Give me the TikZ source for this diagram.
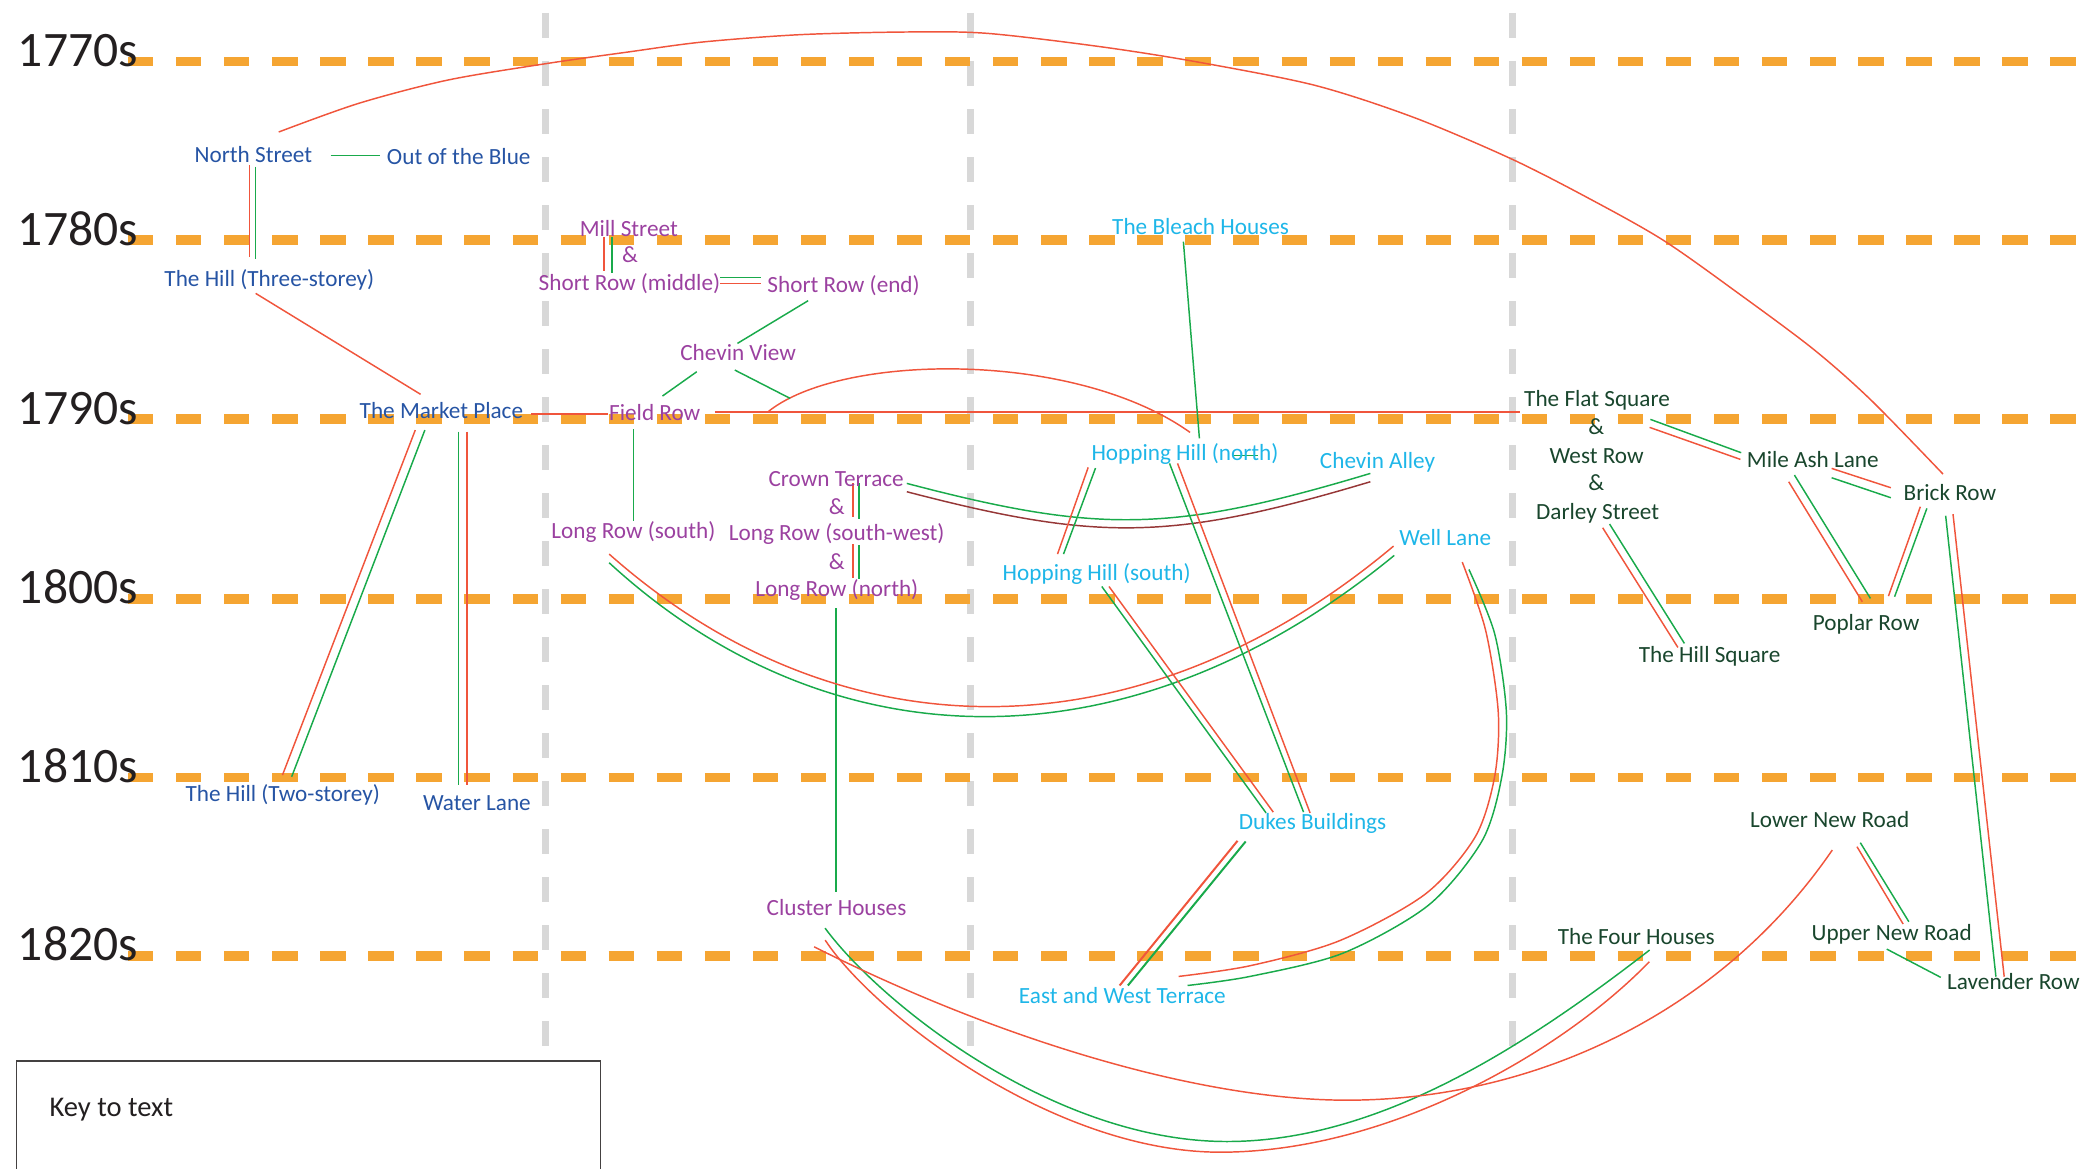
\documentclass[tikz,border=0pt]{standalone}
\usepackage{fontspec}
\setmainfont{Carlito}
\definecolor{tblue}{RGB}{38,84,164}
\definecolor{tpurple}{RGB}{155,65,160}
\definecolor{tcyan}{RGB}{30,182,232}
\definecolor{tgreen}{RGB}{25,70,45}
\definecolor{tdark}{RGB}{35,31,32}
\definecolor{lred}{RGB}{240,85,60}
\definecolor{lgreen}{RGB}{25,170,75}
\definecolor{lmaroon}{RGB}{150,55,55}
\definecolor{lorange}{RGB}{245,165,50}
\definecolor{lgray}{RGB}{216,216,216}
\tikzset{
  lbl/.style={anchor=base, inner sep=0pt, font=\fontsize{8.7}{10}\selectfont},
  bluetxt/.style={lbl, text=tblue},
  purptxt/.style={lbl, text=tpurple},
  cyantxt/.style={lbl, text=tcyan},
  greentxt/.style={lbl, text=tgreen},
  yeartxt/.style={anchor=base west, inner sep=0pt, text=tdark, font=\fontsize{18.6}{20}\selectfont},
  rl/.style={draw=lred, line width=0.55pt},
  gl/.style={draw=lgreen, line width=0.55pt},
  ml/.style={draw=lmaroon, line width=0.55pt},
  hdash/.style={draw=lorange, line width=3.6pt, dash pattern=on 9.5pt off 8.52pt},
  vdash/.style={draw=lgray, line width=2.6pt, dash pattern=on 9.4pt off 8.6pt},
  keybox/.style={draw=tdark!85, line width=0.7pt}
}
\begin{document}
\begin{tikzpicture}[x=0.5pt, y=-0.5pt]
\useasboundingbox (0,0) rectangle (1568,876);
% vertical grey guides
\foreach \vx in {409,727.5,1134.5} \draw[vdash] (\vx,9.75) -- (\vx,786);
% decade lines
\foreach \hy in {46,180,314,449,583,717} \draw[hdash] (96,\hy) -- (1557,\hy);
% year labels
\node[yeartxt] (y1770) at (13,50) {1770s};
\node[yeartxt] (y1780) at (13,184) {1780s};
\node[yeartxt] (y1790) at (13,318) {1790s};
\node[yeartxt] (y1800) at (13,452.5) {1800s};
\node[yeartxt] (y1810) at (13,586.5) {1810s};
\node[yeartxt] (y1820) at (13,720.5) {1820s};
% key box
\draw[keybox] (12.4,880) -- (12.4,795.6) -- (450.3,795.6) -- (450.3,880);
\node[anchor=base west, inner sep=0pt, text=tdark, font=\fontsize{10.7}{12}\selectfont] (key) at (36.8,837.5) {Key to text};

% ---------- connectors ----------
% North Street group
\draw[gl] (248,116.5) -- (285,116.5);
\draw[rl] (187,124) -- (187,192.5);
\draw[gl] (191.5,125) -- (191.5,194);
\draw[rl] plot[smooth] coordinates {(209,99) (269,77.5) (336,60) (411,47.5) (471,39) (527,31.5) (600,26) (680,24) (740,25) (825,35) (898,46.5) (986,64) (1060,88) (1133,119) (1190,148) (1247,180) (1305,221) (1360,262) (1403,300) (1457,355.5)};
\draw[rl] (191.7,220) -- (315.4,295.7);
\draw[rl] (398.5,310.5) -- (455.7,310.5);
\draw[rl, line width=0.8pt] (536,308.75) -- (1140,308.75);
\draw[rl] (576,308.75) .. controls (630,265) and (805,262) .. (892.4,324.25);
% Market Place downwards
\draw[rl] (311.4,322.5) -- (211.8,581.25);
\draw[gl] (318.6,322.5) -- (218.7,582.5);
\draw[gl] (343.8,323.75) -- (343.8,588.75);
\draw[rl] (350.1,323.75) -- (350.1,588.75);
% Mill Street / Short Row / Chevin View
\draw[rl] (453,178) -- (453,203);
\draw[gl] (459,177.5) -- (459,204.5);
\draw[gl] (540,208.25) -- (571,208.25);
\draw[rl] (540,212.75) -- (571,212.75);
\draw[gl] (606,225.5) -- (553,257.5);
\draw[gl] (522.5,278.75) -- (496.75,297);
\draw[gl] (551,277.5) -- (592.5,298.75);
\draw[gl] (475,322) -- (475,390.5);
% Crown Terrace / Long Row
\draw[rl] (639.5,362.5) -- (639.5,387.5);
\draw[gl] (644.25,362.5) -- (644.25,389.5);
\draw[rl] (639.5,408) -- (639.5,433.75);
\draw[gl] (644.25,409) -- (644.25,434);
\draw[gl] (626.75,456) -- (626.75,668.7);
\draw[gl] (680,362.5) .. controls (823,400) and (878,400) .. (1027.6,355);
\draw[ml] (680,368.75) .. controls (823,406) and (878,406) .. (1027.6,361.25);
\draw[rl] (456.8,415.5) .. controls (630,569) and (855,569) .. (1045,409.5);
\draw[gl] (456.8,422) .. controls (625,576.5) and (850,577) .. (1045.5,416.5);
% Hopping Hill group
\draw[gl] (887.4,181.25) -- (899.4,328.75);
\draw[gl] (925,341.5) -- (943.6,341.5);
\draw[rl] (816,350.5) -- (793,415.5);
\draw[gl] (821.5,351) -- (797.5,415.5);
\draw[gl] (877,347.5) -- (977.5,609);
\draw[rl] (883,347.5) -- (982.4,609.6);
\draw[gl] (826.2,439.8) -- (949.4,609.6);
\draw[rl] (831.6,439.8) -- (954.8,609);
\draw[rl, line width=0.75pt] (928,630.5) -- (839.6,739);
\draw[gl, line width=0.75pt] (934.1,631) -- (845.8,739);
% Well Lane to East and West Terrace
\draw[rl] plot[smooth] coordinates {(1096.5,421.5) (1114,472.5) (1123.5,534) (1120.8,582.3) (1106.1,627.8) (1068.6,670.6) (1004.3,705.5) (937.4,724.2) (883.8,732.2)};
\draw[gl] plot[smooth] coordinates {(1101.5,427) (1120.8,475.2) (1129.6,534) (1126.2,582.3) (1111.4,630.5) (1071.3,678.7) (1007,714.8) (937.4,732.2) (890.5,739)};
% Cluster Houses curves
\draw[gl] (618.7,696) .. controls (660,752) and (790,856) .. (920,856)
          .. controls (1030,856) and (1137,790) .. (1237,712.4);
\draw[rl] (618.8,705) .. controls (655,760) and (790,864) .. (915,864)
          .. controls (1040,864) and (1170,790) .. (1236.8,721.2);
\draw[rl] (610.5,710) .. controls (750,780) and (900,825) .. (1010,825)
          .. controls (1150,825) and (1290,760) .. (1374,637.4);
% right-hand group
\draw[gl] (1237.6,314.5) -- (1305.7,339.5);
\draw[rl] (1237,320.5) -- (1305.1,344.5);
\draw[rl] (1373.5,351.25) -- (1417.9,365.75);
\draw[gl] (1373.5,358.25) -- (1417.9,373.25);
\draw[rl] (1341.3,361.25) -- (1396.5,451.25);
\draw[gl] (1345.6,356.25) -- (1402.6,448.75);
\draw[rl] (1440,380) -- (1416.1,447);
\draw[gl] (1444.9,381.25) -- (1420.7,447.5);
\draw[rl] (1201.8,395.75) -- (1258.2,485.5);
\draw[gl] (1207,393) -- (1263.1,482.5);
\draw[gl] (1459,386.75) -- (1496.7,732.4);
\draw[rl] (1464.5,385.5) -- (1502.9,732.4);
\draw[rl] (1392.5,634.9) -- (1427.1,692.9);
\draw[gl] (1395,631.9) -- (1431.4,691.2);
\draw[gl] (1414.8,711.7) -- (1455.3,732.9);

% ---------- labels ----------
\node[bluetxt] (ns) at (190,122) {North Street};
\node[bluetxt] (ootb) at (344,123) {Out of the Blue};
\node[bluetxt] (hill3) at (202,215) {The Hill (Three-storey)};
\node[bluetxt] (mp) at (331,314) {The Market Place};
\node[bluetxt] (hill2) at (212,601) {The Hill (Two-storey)};
\node[bluetxt] (wl) at (357.6,607.5) {Water Lane};

\node[purptxt] (mill) at (471.5,177.5) {Mill Street};
\node[purptxt] (amp1) at (472.5,197) {\&};
\node[purptxt] (srm) at (472,217.5) {Short Row (middle)};
\node[purptxt] (sre) at (632.6,219) {Short Row (end)};
\node[purptxt] (cv) at (553.5,270.5) {Chevin View};
\node[purptxt] (fr) at (491,315.5) {Field Row};
\node[purptxt] (lrs) at (475,404) {Long Row (south)};
\node[purptxt] (ct) at (627,365) {Crown Terrace};
\node[purptxt] (amp2) at (627.5,386) {\&};
\node[purptxt] (lrsw) at (627.4,405) {Long Row (south-west)};
\node[purptxt] (amp3) at (627.5,427) {\&};
\node[purptxt] (lrn) at (627.5,447) {Long Row (north)};
\node[purptxt] (ch) at (627.3,686.5) {Cluster Houses};

\node[cyantxt] (bh) at (900.3,175.5) {The Bleach Houses};
\node[cyantxt] (hhn) at (888.6,345) {Hopping Hill (north)};
\node[cyantxt] (ca) at (1033,351.5) {Chevin Alley};
\node[cyantxt] (well) at (1083.7,409) {Well Lane};
\node[cyantxt] (hhs) at (822.4,435.5) {Hopping Hill (south)};
\node[cyantxt] (db) at (984.3,622) {Dukes Buildings};
\node[cyantxt] (ewt) at (841.6,752.5) {East and West Terrace};

\node[greentxt] (fs) at (1197.6,305) {The Flat Square};
\node[greentxt] (amp4) at (1197,326) {\&};
\node[greentxt] (wr) at (1197.3,347.5) {West Row};
\node[greentxt] (amp5) at (1197,368) {\&};
\node[greentxt] (ds) at (1198,389.5) {Darley Street};
\node[greentxt] (mal) at (1359.4,350.5) {Mile Ash Lane};
\node[greentxt] (br) at (1462.2,375.5) {Brick Row};
\node[greentxt] (pr) at (1399.3,473) {Poplar Row};
\node[greentxt] (hsq) at (1282,497) {The Hill Square};
\node[greentxt] (lnr) at (1372,620.5) {Lower New Road};
\node[greentxt] (unr) at (1418.5,705.5) {Upper New Road};
\node[greentxt] (fh) at (1227,708) {The Four Houses};
\node[greentxt] (lav) at (1509.8,742) {Lavender Row};
\end{tikzpicture}
\end{document}
